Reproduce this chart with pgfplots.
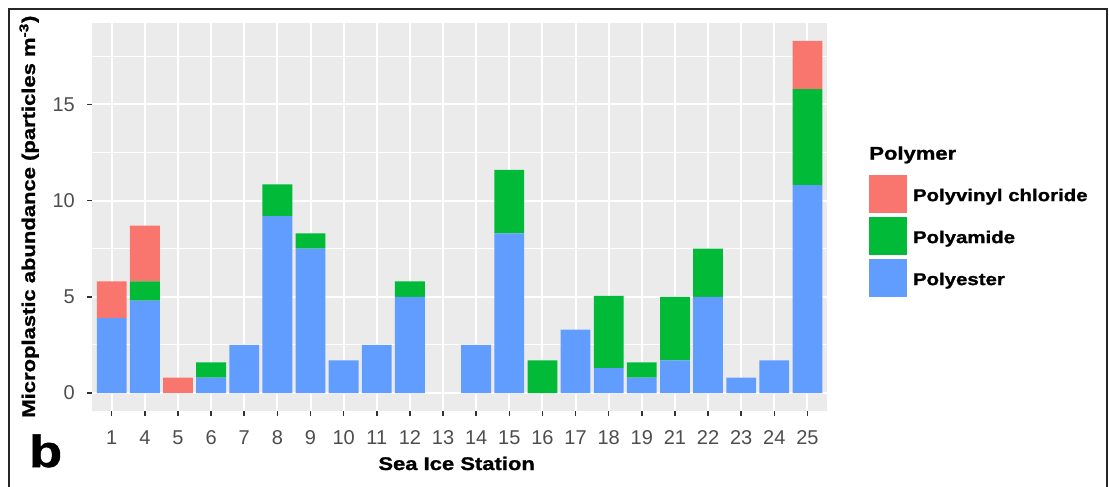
\documentclass[border=0pt]{standalone}
\usepackage{fontspec}
\setmainfont{Liberation Sans}
\newfontfamily\lab{Liberation Sans Bold}[FakeStretch=1.2, FakeBold=1.2]
\usepackage{pgfplots}
\usepackage{pgfplotstable}
\pgfplotsset{compat=1.18}
\definecolor{pvc}{HTML}{F8766D}
\definecolor{pam}{HTML}{00BA38}
\definecolor{pes}{HTML}{619CFF}
\definecolor{panel}{HTML}{EBEBEB}
\definecolor{ticklab}{HTML}{4D4D4D}
\definecolor{tickcol}{HTML}{333333}

\pgfplotstableread{
idx station pes pam pvc
0 1 3.9 0 1.9
1 4 4.8 1.0 2.9
2 5 0 0 0.8
3 6 0.8 0.8 0
4 7 2.5 0 0
5 8 9.2 1.65 0
6 9 7.5 0.8 0
7 10 1.7 0 0
8 11 2.5 0 0
9 12 5.0 0.8 0
10 13 0 0 0
11 14 2.5 0 0
12 15 8.3 3.3 0
13 16 0 1.7 0
14 17 3.3 0 0
15 18 1.3 3.75 0
16 19 0.8 0.8 0
17 21 1.7 3.3 0
18 22 5.0 2.5 0
19 23 0.8 0 0
20 24 1.7 0 0
21 25 10.8 5.0 2.5
}\data

\begin{document}
\begin{tikzpicture}
\path[use as bounding box] (0,0) rectangle (665.4pt,291.6pt);
\draw[line width=1.2pt, black!85] (5.4pt,-2pt) -- (5.4pt,286.2pt) -- (664.2pt,286.2pt) -- (664.2pt,-2pt);
\begin{axis}[
  at={(55.1pt,45.2pt)}, anchor=south west,
  scale only axis, width=441.3pt, height=232.4pt,
  ybar stacked, bar width=0.9,
  xmin=-0.6, xmax=21.6, ymin=-0.915, ymax=19.215,
  xtick={0,...,21},
  xticklabels={1,4,5,6,7,8,9,10,11,12,13,14,15,16,17,18,19,21,22,23,24,25},
  ytick={0,5,10,15}, minor ytick={2.5,7.5,12.5,17.5},
  xtick pos=bottom, ytick pos=left,
  xmajorgrids, ymajorgrids, yminorgrids,
  major grid style={white, line width=1.2pt},
  minor grid style={white, line width=0.6pt},
  axis line style={draw=none},
  axis background/.style={fill=panel},
  tick align=outside, major tick length=3pt, minor tick length=0pt,
  tick style={tickcol, line width=0.9pt},
  /pgf/number format/assume math mode=true,
  tick label style={font=\fontsize{12}{14}\selectfont, text=ticklab},
  xticklabel style={anchor=north, inner sep=0pt, yshift=-8.6pt},
  yticklabel style={anchor=east, inner sep=0pt, xshift=-7pt},
  xlabel={Sea Ice Station},
  ylabel={Microplastic abundance (particles m\textsuperscript{-3})},
  label style={font=\lab\fontsize{11}{13}\selectfont},
  xlabel style={at={(axis description cs:0.496,-0.1532)}, anchor=base},
  ylabel style={at={(axis description cs:-0.0773,0.501)}, anchor=base},
  reverse legend,
  legend cell align=left,
  legend style={at={(axis description cs:1.0566,0.6084)}, anchor=north west,
    draw=none, fill=none, inner sep=0pt, outer sep=0pt, row sep=2.4pt,
    font=\lab\fontsize{10.2}{12}\selectfont,
    nodes={inner sep=0pt},
    /tikz/every odd column/.append style={column sep=3.6pt}},
]
\addplot[fill=pes, draw=none, legend image code/.code={\fill[pes] (0pt,-10.1pt) rectangle (22.8pt,12.7pt);}] table[x=idx, y=pes] {\data};
\addplot[fill=pam, draw=none, legend image code/.code={\fill[pam] (0pt,-10.1pt) rectangle (22.8pt,12.7pt);}] table[x=idx, y=pam] {\data};
\addplot[fill=pvc, draw=none, legend image code/.code={\fill[pvc] (0pt,-10.1pt) rectangle (22.8pt,12.7pt);}] table[x=idx, y=pvc] {\data};
\legend{Polyester, Polyamide, Polyvinyl chloride}
\end{axis}
\node[anchor=base west, inner sep=0pt] at (521.4pt,195.8pt) {\lab\fontsize{11}{13}\selectfont Polymer};
\node[anchor=base west, inner sep=0pt] at (17.3pt,11.4pt) {\lab\fontsize{27}{30}\selectfont b};
\end{tikzpicture}
\end{document}
